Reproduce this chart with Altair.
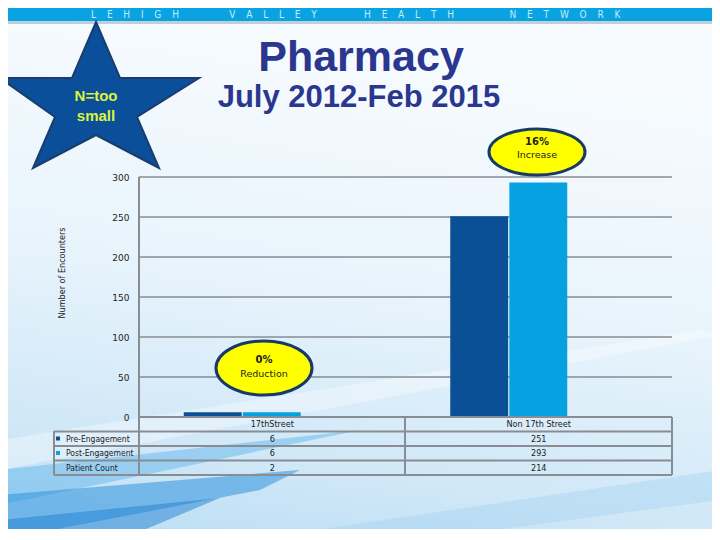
import altair as alt
import pandas as pd

# ---------------- data ----------------
categories = ["17thStreet", "Non 17th Street"]
series_names = ["Pre-Engagement", "Post-Engagement"]
pre_engagement = [6, 251]
post_engagement = [6, 293]
patient_count = [2, 214]
row_labels = ["Pre-Engagement", "Post-Engagement", "Patient Count"]
y_ticks = [0, 50, 100, 150, 200, 250, 300]
title_text = "Pharmacy"
subtitle_text = "July 2012-Feb 2015"
star_lines = ["N=too", "small"]
badge_increase = ["16%", "Increase"]
badge_reduction = ["0%", "Reduction"]
banner_words = ["LEHIGH", "VALLEY", "HEALTH", "NETWORK"]
y_axis_title = "Number of Encounters"

# ---------------- layout helpers ----------------
W, H = 533, 240
OX, OY = 139, 177  # plot origin in page pixels


def px(x):
    return x - OX


def py(y):
    return y - OY


one = pd.DataFrame({"k": [0]})
NAVY = "#2b378f"
GRID = "#878d93"
TFONT = "DejaVu Sans Condensed"
SERIES_COLORS = ["#0b4f96", "#06a1e1"]

y_axis = alt.Axis(values=y_ticks, grid=False, domain=False, ticks=False,
                  labelPadding=10, labelFontSize=9, labelColor="#222222",
                  labelFont="DejaVu Sans", title=None, zindex=1)
y_scale = alt.Scale(domain=[0, 300], nice=False, zero=True)
x_scale = alt.Scale(domain=categories, paddingInner=0.561, paddingOuter=0.2805)


def vrule(x, y1, y2, color=GRID, w=2):
    return alt.Chart(one).mark_rule(color=color, strokeWidth=w).encode(
        x=alt.value(px(x)), y=alt.value(py(y1)), y2=alt.value(py(y2)))


def hrule(y, x1, x2, color=GRID, w=2):
    return alt.Chart(one).mark_rule(color=color, strokeWidth=w).encode(
        y=alt.value(py(y)), x=alt.value(px(x1)), x2=alt.value(px(x2)))


def label(txt, x, y, size=9, color="#222222", font=TFONT, weight="normal",
          align="center", angle=0):
    return alt.Chart(pd.DataFrame({"t": [txt]})).mark_text(
        fontSize=size, color=color, font=font, fontWeight=weight,
        align=align, baseline="middle", angle=angle).encode(
        text="t:N", x=alt.value(px(x)), y=alt.value(py(y)))


def shape(path, x, y, fill, stroke=None, sw=0, opacity=1.0):
    kw = dict(shape=path, size=4, filled=True, fill=fill, fillOpacity=opacity,
              opacity=1)
    if stroke:
        kw.update(stroke=stroke, strokeWidth=sw, strokeOpacity=1)
    else:
        kw.update(strokeWidth=0)
    return alt.Chart(one).mark_point(**kw).encode(
        x=alt.value(px(x)), y=alt.value(py(y)))


# ---------------- background ----------------
bg = alt.Chart(one).mark_rect(
    color=alt.Gradient(
        gradient="linear",
        stops=[alt.GradientStop(color="#f7fbfe", offset=0),
               alt.GradientStop(color="#e8f4fc", offset=0.45),
               alt.GradientStop(color="#cfe7f7", offset=0.8),
               alt.GradientStop(color="#b9ddf4", offset=1)],
        x1=0.2, y1=0, x2=0, y2=1)
).encode(x=alt.value(px(8)), x2=alt.value(px(712)),
         y=alt.value(py(8)), y2=alt.value(py(540)))

streaks = [
    shape("M0,440 L700,330 L720,335 L0,470 Z", 0, 0, "#ffffff", opacity=0.35),
    shape("M0,470 L360,430 L0,505 Z", 0, 0, "#58b2e8", opacity=0.45),
    shape("M0,495 L300,470 L260,490 L0,540 Z", 0, 0, "#2f94dc", opacity=0.55),
    shape("M0,520 L220,498 L120,540 L0,540 Z", 0, 0, "#1f7fcf", opacity=0.5),
    shape("M250,540 L720,470 L720,500 L420,540 Z", 0, 0, "#9ccff0", opacity=0.35),
]

banner = alt.Chart(one).mark_rect(color="#0aa3e2").encode(
    x=alt.value(px(8)), x2=alt.value(px(712)),
    y=alt.value(py(8)), y2=alt.value(py(21)))
banner_shadow = alt.Chart(one).mark_rect(color="#5d7d96", opacity=0.35).encode(
    x=alt.value(px(8)), x2=alt.value(px(712)),
    y=alt.value(py(21)), y2=alt.value(py(24)))
banner_x = [135, 273, 409, 565]
SEP = "\u2003\u2009"
banner_text = [label(SEP.join(list(w)), bx, 14.5, size=10, color="#c6ebfb",
                     font="DejaVu Sans Condensed") for w, bx in zip(banner_words, banner_x)]

# ---------------- titles & star ----------------
title = label(title_text, 361, 58, size=43, color=NAVY, font="Liberation Sans", weight="bold")
subtitle = label(subtitle_text, 359, 98, size=31, color=NAVY, font="Liberation Sans", weight="bold")

star = shape("M0,-78 L24,-22 L103,-22 L41,17 L63,68 L0,35 L-63,68 L-41,17 L-96,-22 L-24,-22 Z",
             96, 100, "#0b4f9a", stroke="#1b3c6c", sw=2)
star_text = [label(star_lines[0], 96, 96, size=15, color="#dcf53c", font="Liberation Sans", weight="bold"),
             label(star_lines[1], 96, 116, size=15, color="#dcf53c", font="Liberation Sans", weight="bold")]

# ---------------- gridlines & bars ----------------
grid = alt.Chart(pd.DataFrame({"value": y_ticks})).mark_rule(color=GRID, strokeWidth=1.6).encode(
    y=alt.Y("value:Q", scale=y_scale, axis=y_axis),
    x=alt.value(0), x2=alt.value(W))

bars_df = pd.DataFrame({
    "category": categories * 2,
    "series": [series_names[0]] * 2 + [series_names[1]] * 2,
    "value": pre_engagement + post_engagement,
})
bars = alt.Chart(bars_df).mark_bar(strokeWidth=0).encode(
    x=alt.X("category:N", scale=x_scale, axis=None),
    xOffset=alt.XOffset("series:N", sort=series_names,
                        scale=alt.Scale(domain=series_names, paddingOuter=0, paddingInner=0.02,
                                        range=[-30, 87])),
    y=alt.Y("value:Q", scale=y_scale, axis=y_axis),
    color=alt.Color("series:N", scale=alt.Scale(domain=series_names, range=SERIES_COLORS), legend=None),
)

y_title = label(y_axis_title, 62, 273, size=9, color="#222222", font=TFONT, angle=270)

# ---------------- data table ----------------
table_lines = [
    hrule(417, 139, 672), hrule(431.5, 54, 672), hrule(446, 54, 672),
    hrule(460.5, 54, 672), hrule(475, 54, 672),
    vrule(139, 177, 475), vrule(54, 431, 475), vrule(405, 417, 475), vrule(672, 417, 475),
]

row_y = [424, 438.5, 453, 467.5]
header = alt.Chart(pd.DataFrame({"category": categories})).mark_text(
    fontSize=9, font=TFONT, color="#222222", baseline="middle").encode(
    x=alt.X("category:N", scale=x_scale, axis=None), text="category:N",
    y=alt.value(py(row_y[0])))

cells = []
for r, vals in enumerate([pre_engagement, post_engagement, patient_count]):
    df = pd.DataFrame({"category": categories, "v": vals})
    cells.append(alt.Chart(df).mark_text(fontSize=9, font=TFONT, color="#222222", baseline="middle").encode(
        x=alt.X("category:N", scale=x_scale, axis=None), text="v:Q",
        y=alt.value(py(row_y[r + 1]))))
    cells.append(label(row_labels[r], 66, row_y[r + 1], size=8.5, align="left"))

markers = [
    alt.Chart(pd.DataFrame({"series": [s]})).mark_square(size=16, opacity=1).encode(
        x=alt.value(px(58)), y=alt.value(py(yy)),
        color=alt.Color("series:N", scale=alt.Scale(domain=series_names, range=SERIES_COLORS), legend=None))
    for s, yy in zip(series_names, row_y[1:3])
]

# ---------------- badges ----------------
ellipse_inc = "M-48,0 A48,23 0 1,1 48,0 A48,23 0 1,1 -48,0 Z"
ellipse_red = "M-48,0 A48,27 0 1,1 48,0 A48,27 0 1,1 -48,0 Z"
badge1 = shape(ellipse_inc, 537, 152, "#ffff00", stroke="#173b66", sw=3)
badge1_t = [label(badge_increase[0], 537, 142, size=10, color="#222222", font="DejaVu Sans", weight="bold"),
            label(badge_increase[1], 537, 155, size=9.5, color="#222222", font="DejaVu Sans")]
badge2 = shape(ellipse_red, 264, 368, "#ffff00", stroke="#173b66", sw=3)
badge2_t = [label(badge_reduction[0], 264, 360, size=10, color="#222222", font="DejaVu Sans", weight="bold"),
            label(badge_reduction[1], 264, 374, size=9.5, color="#222222", font="DejaVu Sans")]

layers = ([bg] + streaks + [banner, banner_shadow] + banner_text +
          [grid, bars, y_title] + table_lines + [header] + cells + markers +
          [star] + star_text + [title, subtitle, badge1] + badge1_t + [badge2] + badge2_t)

chart = alt.layer(*layers).resolve_scale(color="shared").properties(
    width=W, height=H,
    padding={"left": 131, "top": 169, "right": 40, "bottom": 112},
    autosize=alt.AutoSizeParams(type="none"),
).configure_view(stroke=None)

chart.save("out.html", embed_options={"renderer": "svg", "actions": False})
